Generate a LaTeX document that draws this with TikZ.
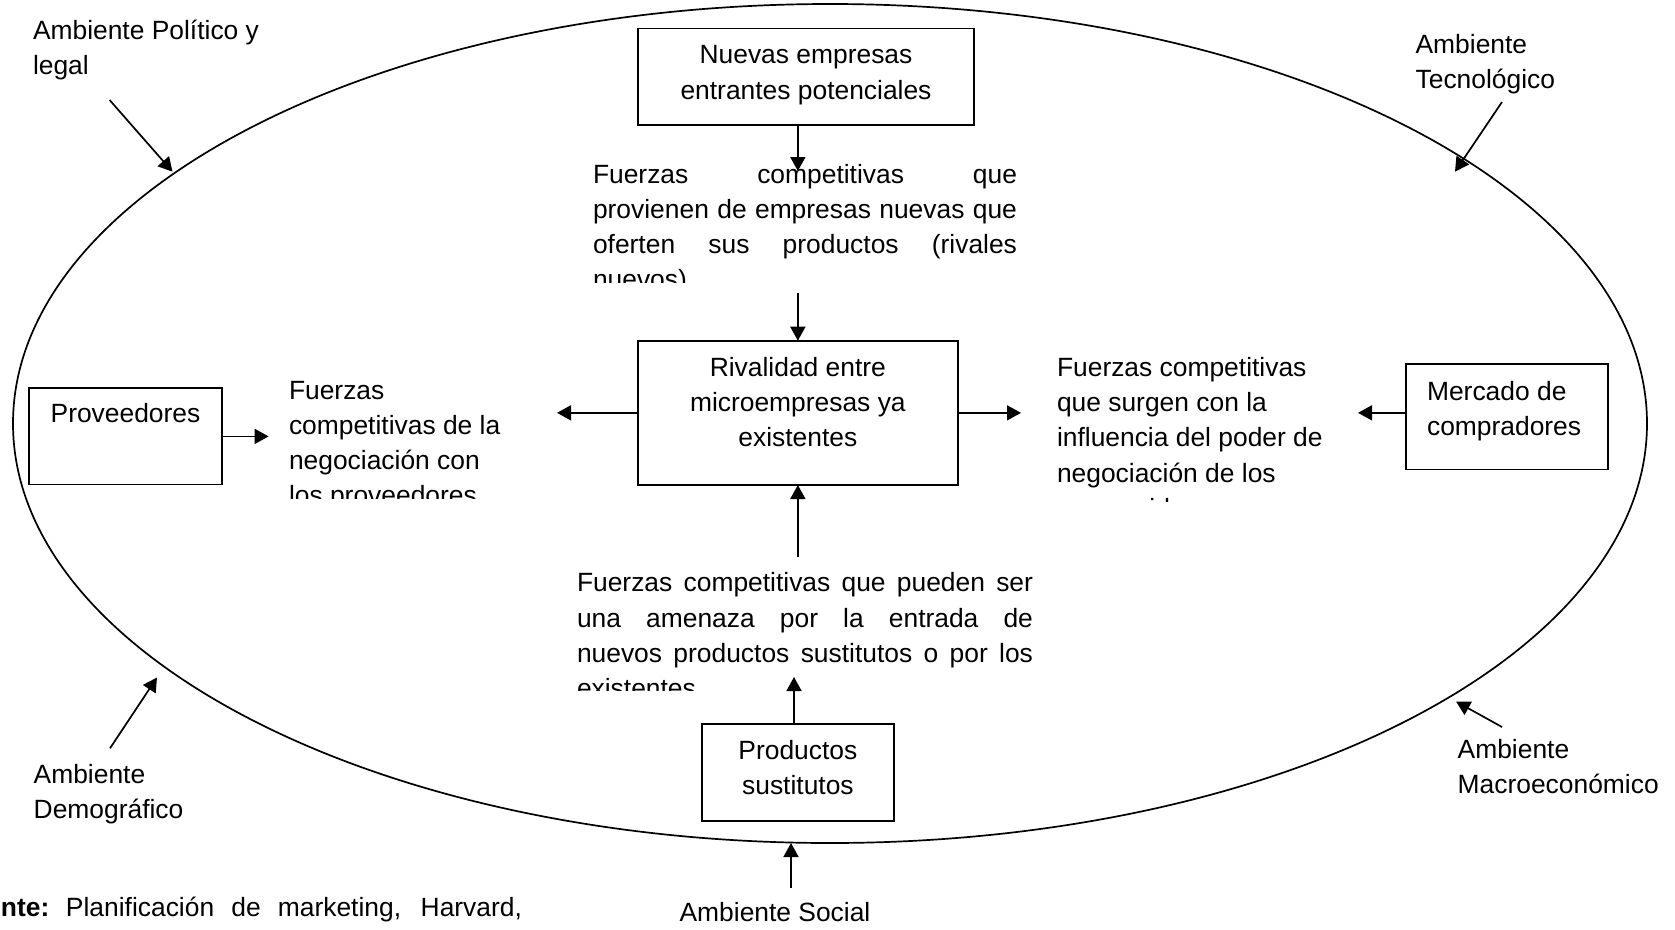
\documentclass[tikz,border=0pt]{standalone}
\usepackage{fontspec}
\setmainfont{Liberation Sans}
\usetikzlibrary{arrows.meta,shapes.geometric}
\newcommand\jline[2]{\makebox[#1][s]{#2}}
\begin{document}
\begin{tikzpicture}[x=1pt,y=-1pt,
  txt/.style={inner sep=0pt, outer sep=0pt, font=\fontsize{26.4}{35.3}\selectfont, align=left},
  boxs/.style={draw, line width=1.7pt, inner sep=0pt, outer sep=0pt},
  arr/.style={line width=1.7pt, -{Triangle[length=14pt,width=15pt]}}
]
\useasboundingbox (0,0) rectangle (1675,929);

% environment ellipse
\node[ellipse, draw, line width=1.7pt, minimum width=1634pt, minimum height=839pt, inner sep=0pt, outer sep=0pt] (env) at (830,423.5) {};

% boxes
\node[boxs, minimum width=336pt, minimum height=96.5pt] (nuevas) at (806,76.75) {};
\node[boxs, minimum width=320.3pt, minimum height=144.3pt] (rival) at (797.85,412.85) {};
\node[boxs, minimum width=193pt, minimum height=96.2pt] (prov) at (125.5,436.4) {};
\node[boxs, minimum width=202pt, minimum height=105.2pt] (merc) at (1506.75,416.9) {};
\node[boxs, minimum width=192.2pt, minimum height=96.4pt] (prod) at (797.9,772.5) {};

% box texts
\node[txt, align=center, anchor=north, yshift=-10.6pt] (nuevasT) at (nuevas.north) {\strut Nuevas empresas\\entrantes potenciales};
\node[txt, align=center, anchor=north, yshift=-10.6pt] (rivalT) at (rival.north) {\strut Rivalidad entre\\microempresas ya\\existentes};
\node[txt, align=center, anchor=north, yshift=-9.5pt] (provT) at (prov.north) {\strut Proveedores};
\node[txt, anchor=north west, xshift=21.3pt, yshift=-11pt] (mercT) at (merc.north west) {\strut Mercado de\\compradores};
\node[txt, align=center, anchor=north, yshift=-10.3pt] (prodT) at (prod.north) {\strut Productos\\sustitutos};

% text blocks (clipped text frames)
\begin{scope}
\clip (560,140) rectangle (1040,282.7);
\node[txt, anchor=north west] (f1) at (593,158.3) {\strut\jline{424pt}{Fuerzas competitivas que}\\\jline{424pt}{provienen de empresas nuevas que}\\\jline{424pt}{oferten sus productos (rivales}\\nuevos)};
\end{scope}
\begin{scope}
\clip (560,550) rectangle (1050,690);
\node[txt, anchor=north west] (f2) at (577,567) {\strut\jline{456pt}{Fuerzas competitivas que pueden ser}\\\jline{456pt}{una amenaza por la entrada de}\\\jline{456pt}{nuevos productos sustitutos o por los}\\existentes};
\end{scope}
\begin{scope}
\clip (280,360) rectangle (560,498.3);
\node[txt, anchor=north west] (fprov) at (289,374.3) {\strut Fuerzas\\competitivas de la\\negociación con\\los proveedores};
\end{scope}
\begin{scope}
\clip (1045,330) rectangle (1380,501);
\node[txt, anchor=north west] (fcomp) at (1057,351.6) {\strut Fuerzas competitivas\\que surgen con la\\influencia del poder de\\negociación de los\\consumidores};
\end{scope}

% environment labels
\node[txt, anchor=north west] (pol) at (33,14.6) {\strut Ambiente Político y\\legal};
\node[txt, anchor=north west] (tec) at (1415.6,28.6) {\strut Ambiente\\Tecnológico};
\node[txt, anchor=north west] (dem) at (33.7,758.6) {\strut Ambiente\\Demográfico};
\node[txt, anchor=north west] (mac) at (1457.7,733.6) {\strut Ambiente\\Macroeconómico};
\node[txt, anchor=base] (soc) at (775,921.7) {Ambiente Social};
\node[txt, anchor=base west] (fuente) at (1,916.7) {\makebox[60pt][l]{\textbf{nte:}}\hspace{5pt}\jline{456pt}{Planificación de marketing, Harvard,}};

% free ends of connectors
\coordinate (polS) at (109.6,100);
\coordinate (polT) at (172.5,171.7);
\coordinate (tecS) at (1502,102);
\coordinate (tecT) at (1455,171.7);
\coordinate (demS) at (110,748.3);
\coordinate (demT) at (157,677.5);
\coordinate (macS) at (1502,727);
\coordinate (macT) at (1456,701.5);
\coordinate (socS) at (791,888.3);
\coordinate (t1) at (797.85,171);
\coordinate (s2) at (797.85,293);
\coordinate (t3) at (557,412.85);
\coordinate (t4) at (1021,412.85);
\coordinate (t5) at (268.6,436.4);
\coordinate (t6) at (1358,412.85);
\coordinate (s7) at (797.85,556.7);
\coordinate (t8) at (794,677);

% environment arrows (towards the ellipse)
\draw[arr] (polS) -- (polT);
\draw[arr] (tecS) -- (tecT);
\draw[arr] (demS) -- (demT);
\draw[arr] (macS) -- (macT);
\draw[arr] (socS) -- (socS |- env.south);

% force arrows
\draw[arr] (nuevas.south -| rival.north) -- (t1);
\draw[arr] (s2) -- (rival.north);
\draw[arr] (rival.west) -- (t3);
\draw[arr] (rival.east) -- (t4);
\draw[arr] (prov.east) -- (t5);
\draw[arr] (merc.west |- rival.west) -- (t6);
\draw[arr] (s7) -- (rival.south);
\draw[arr] (prod.north -| t8) -- (t8);
\end{tikzpicture}
\end{document}
